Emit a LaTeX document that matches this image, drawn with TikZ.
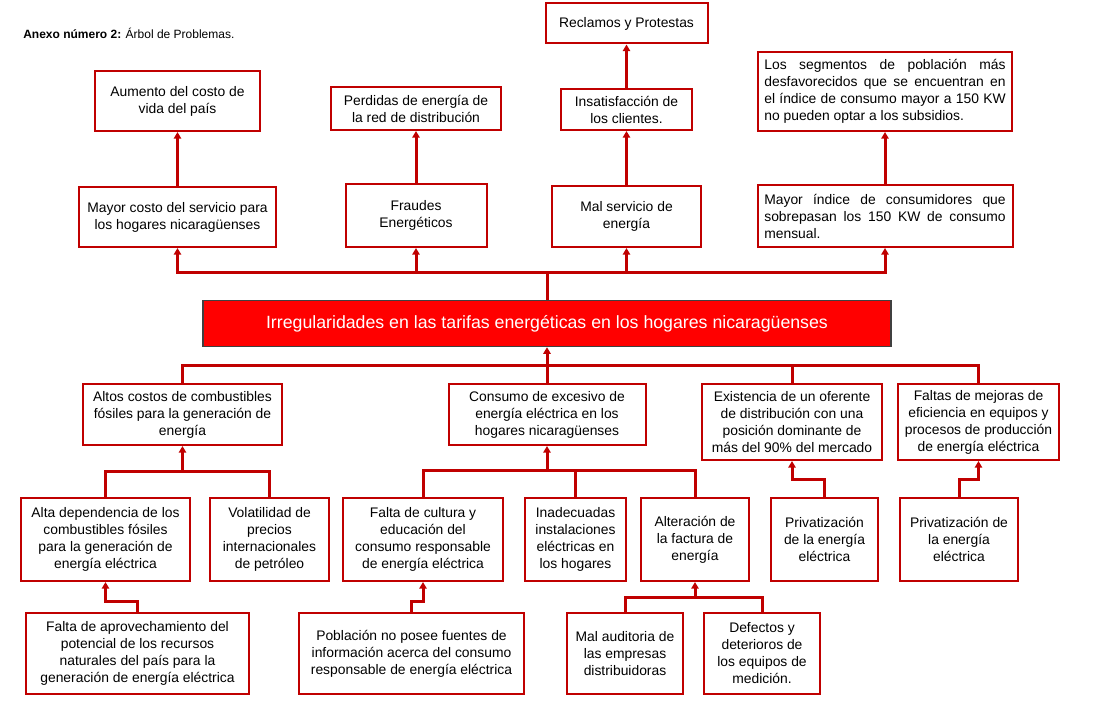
\documentclass[tikz,border=0pt]{standalone}
\usepackage{fontspec}
\setmainfont{Liberation Sans}
\usetikzlibrary{arrows.meta}
\definecolor{rojo}{HTML}{C00000}
\definecolor{rojovivo}{HTML}{FF0000}
\definecolor{grisoscuro}{HTML}{404040}

\begin{document}
\begin{tikzpicture}[x=0.75pt,y=-0.75pt,
  caja/.style={draw=rojo,line width=1.5pt,fill=white,align=center,font=\fontsize{10.4}{12.75}\selectfont,inner sep=2pt},
  tam/.style 2 args={minimum width=#1*0.75pt,minimum height=#2*0.75pt},
  just/.style={align=justify,text width=181pt},
  raiz/.style={draw=grisoscuro,line width=1pt,fill=rojovivo,text=white,font=\fontsize{13.3}{16}\selectfont},
  linea/.style={rojo,line width=2.25pt},
  flecha/.style={linea,-{Triangle[length=5pt,width=5.5pt]}}]
  \useasboundingbox (0,0) rectangle (1113,705);
  % Titulo
  \node[anchor=west,inner sep=0pt,font=\fontsize{9}{11}\selectfont] (titulo) at (23,33) {\textbf{Anexo número 2:} Árbol de Problemas.};
  % Efectos
  \node[caja,tam={162}{40}] (reclamos) at (626.5,23.5) {Reclamos y Protestas};
  \node[caja,tam={165}{60}] (aumento) at (177.5,101) {Aumento del costo de\\vida del país};
  \node[caja,tam={170}{43}] (perdidas) at (416,108.5) {Perdidas de energía de\\la red de distribución};
  \node[caja,tam={131}{41}] (insatisf) at (626.5,109.5) {Insatisfacción de\\los clientes.};
  \node[caja,just,tam={254}{79}] (segmentos) at (885,91.5) {Los segmentos de población más\linebreak desfavorecidos que se encuentran en\linebreak el índice de consumo mayor a 150 KW\linebreak no pueden optar a los subsidios.};
  \node[caja,tam={197}{60}] (mayorcosto) at (177.5,217) {Mayor costo del servicio para\\los hogares nicaragüenses};
  \node[caja,tam={141}{63}] (fraudes) at (416,215.5) {Fraudes\\Energéticos};
  \node[caja,tam={149}{61}] (malservicio) at (626.5,216.5) {Mal servicio de\\energía};
  \node[caja,just,tam={255}{62}] (mayorindice) at (885,216) {Mayor índice de consumidores que\linebreak sobrepasan los 150 KW de consumo\linebreak mensual.};
  % Problema central
  \node[raiz,minimum width=688*0.75pt,minimum height=46*0.75pt] (problema) at (547,323.5) {Irregularidades en las tarifas energéticas en los hogares nicaragüenses};
  % Causas
  \node[caja,tam={199}{61}] (altos) at (182.5,414.5) {Altos costos de combustibles\\fósiles para la generación de\\energía};
  \node[caja,tam={197}{61}] (consumo) at (547,414.5) {Consumo de excesivo de\\energía eléctrica en los\\hogares nicaragüenses};
  \node[caja,tam={180}{76}] (existencia) at (792,422) {Existencia de un oferente\\de distribución con una\\posición dominante de\\más del 90\% del mercado};
  \node[caja,tam={161}{76}] (faltas) at (978.5,422) {Faltas de mejoras de\\eficiencia en equipos y\\procesos de producción\\de energía eléctrica};
  \node[caja,tam={169}{83}] (altadep) at (105.5,539.5) {Alta dependencia de los\\combustibles fósiles\\para la generación de\\energía eléctrica};
  \node[caja,tam={119}{83}] (volat) at (269.5,539.5) {Volatilidad de\\precios\\internacionales\\de petróleo};
  \node[caja,tam={160}{83}] (faltacult) at (423,539.5) {Falta de cultura y\\educación del\\consumo responsable\\de energía eléctrica};
  \node[caja,tam={101}{83}] (inadec) at (575.5,539.5) {Inadecuadas\\instalaciones\\eléctricas en\\los hogares};
  \node[caja,tam={108}{83}] (alterac) at (695,539.5) {Alteración de\\la factura de\\energía};
  \node[caja,tam={107}{83}] (priv1) at (824.5,539.5) {Privatización\\de la energía\\eléctrica};
  \node[caja,tam={118}{83}] (priv2) at (959,539.5) {Privatización de\\la energía\\eléctrica};
  \node[caja,tam={223}{81}] (aprovech) at (137.5,653.5) {Falta de aprovechamiento del\\potencial de los recursos\\naturales del país para la\\generación de energía eléctrica};
  \node[caja,tam={225}{81}] (poblacion) at (411.5,653.5) {Población no posee fuentes de\\información acerca del consumo\\responsable de energía eléctrica};
  \node[caja,tam={116}{81}] (malaudit) at (625,653.5) {Mal auditoria de\\las empresas\\distribuidoras};
  \node[caja,tam={116}{81}] (defectos) at (762,653.5) {Defectos y\\deterioros de\\los equipos de\\medición.};
  % Barras
  \coordinate (busefe) at (547,273);
  \coordinate (buscau) at (547,366);
  \coordinate (busalt) at (182.5,471);
  \coordinate (buscon) at (547,470);
  \coordinate (busfac) at (695,597);
  % Flechas hacia los efectos
  \foreach \b in {mayorcosto,fraudes,malservicio,mayorindice}
    \draw[flecha] (problema.north) -- (busefe) -| (\b.south);
  \draw[flecha] (mayorcosto) -- (aumento);
  \draw[flecha] (fraudes) -- (perdidas);
  \draw[flecha] (malservicio) -- (insatisf);
  \draw[flecha] (insatisf) -- (reclamos);
  \draw[flecha] (mayorindice) -- (segmentos);
  % Flechas desde las causas
  \foreach \b in {altos,consumo,existencia,faltas}
    \draw[linea] (\b.north) |- (buscau);
  \draw[flecha] (buscau) -- (problema.south);
  \foreach \b in {altadep,volat}
    \draw[linea] (\b.north) |- (busalt);
  \draw[flecha] (busalt) -- (altos.south);
  \foreach \b in {faltacult,inadec,alterac}
    \draw[linea] (\b.north) |- (buscon);
  \draw[flecha] (buscon) -- (consumo.south);
  \draw[flecha] (priv1.north) -- ++(0,-18) -| (existencia.south);
  \draw[flecha] (priv2.north) -- ++(0,-18) -| (faltas.south);
  \draw[flecha] (aprovech.north) -- ++(0,-11) -| (altadep.south);
  \draw[flecha] (poblacion.north) -- ++(0,-11) -| (faltacult.south);
  \foreach \b in {malaudit,defectos}
    \draw[linea] (\b.north) |- (busfac);
  \draw[flecha] (busfac) -- (alterac.south);
\end{tikzpicture}
\end{document}
